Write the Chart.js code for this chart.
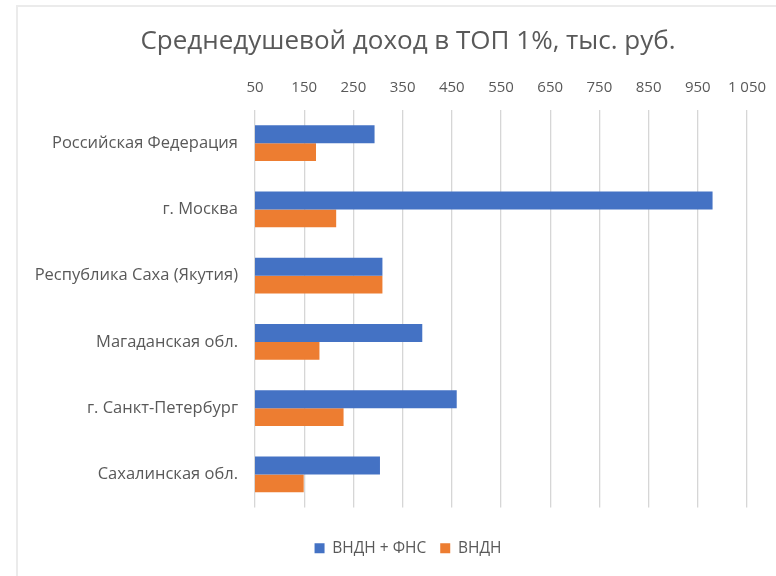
<!DOCTYPE html>
<html>
<head>
<meta charset="utf-8">
<script src="https://cdn.jsdelivr.net/npm/chart.js@4/dist/chart.umd.min.js"></script>
<style>
  html, body { margin: 0; padding: 0; background: #ffffff; overflow: hidden; width: 776px; height: 576px; }
  #frame { position: absolute; left: 16px; top: 5px; width: 780px; height: 600px;
           border-left: 2px solid #ebebeb; border-top: 2px solid #ebebeb; }
  #wrap { position: absolute; left: 0; top: 0; width: 780px; height: 600px; }
</style>
</head>
<body>
<div id="frame"><div id="wrap"><canvas id="c"></canvas></div></div>
<script>
const chartTitle = 'Среднедушевой доход в ТОП 1%, тыс. руб.';
const categories = [
  'Российская Федерация',
  'г. Москва',
  'Республика Саха (Якутия)',
  'Магаданская обл.',
  'г. Санкт-Петербург',
  'Сахалинская обл.'
];
const seriesNames = ['ВНДН + ФНС', 'ВНДН'];
const valuesVNDNFNS = [293, 980, 309, 390, 460, 304];
const valuesVNDN = [174, 215, 309, 181, 230, 149];
const xTickValues = [50, 150, 250, 350, 450, 550, 650, 750, 850, 950, 1050];

const FONT = "'Open Sans', 'Noto Sans', sans-serif";
const TEXT = '#595959';

function fmt(v) {
  const s = String(v);
  return s.length > 3 ? s.slice(0, s.length - 3) + ' ' + s.slice(-3) : s;
}

new Chart(document.getElementById('c'), {
  type: 'bar',
  data: {
    labels: categories,
    datasets: [
      { label: seriesNames[0], data: valuesVNDNFNS, backgroundColor: '#4472C4', yAxisID: 'y', xAxisID: 'x' },
      { label: seriesNames[1], data: valuesVNDN, backgroundColor: '#ED7D31', yAxisID: 'y', xAxisID: 'x' }
    ]
  },
  options: {
    indexAxis: 'y',
    responsive: true,
    maintainAspectRatio: false,
    animation: false,
    layout: { padding: { left: 0, right: 0, top: 0, bottom: 41 } },
    datasets: { bar: { categoryPercentage: 0.54, barPercentage: 1.0 } },
    scales: {
      x: {
        type: 'linear',
        position: 'top',
        min: 50,
        max: 1050,
        afterBuildTicks: (s) => { s.ticks = xTickValues.map(v => ({ value: v })); },
        afterFit: (s) => { s.height = 46; },
        grid: { color: '#d6d6d6', lineWidth: 1.3, drawTicks: false },
        border: { display: false },
        ticks: {
          color: TEXT, padding: 13,
          font: { family: FONT, size: 15 },
          maxRotation: 0, autoSkip: false,
          callback: (v) => fmt(v)
        }
      },
      x2: {
        type: 'linear', position: 'bottom', display: true,
        grid: { display: false, drawTicks: false }, border: { display: false },
        ticks: { display: false },
        afterFit: (s) => { s.height = 19; }
      },
      y: {
        type: 'category',
        position: 'left',
        afterFit: (s) => { s.width = 237; },
        grid: { display: false, drawTicks: false },
        border: { display: false },
        ticks: { color: TEXT, padding: 17, font: { family: FONT, size: 16.5 } }
      },
      y2: {
        type: 'linear', position: 'right', display: true,
        grid: { display: false, drawTicks: false }, border: { display: false },
        ticks: { display: false },
        afterFit: (s) => { s.width = 51; }
      }
    },
    plugins: {
      title: {
        display: true,
        text: chartTitle,
        color: TEXT,
        font: { family: FONT, size: 26, weight: 'normal', lineHeight: 1 },
        padding: { top: 22, bottom: 9 }
      },
      legend: {
        position: 'bottom',
        labels: {
          color: TEXT, boxWidth: 10, boxHeight: 10, padding: 14,
          font: { family: FONT, size: 15.5 }
        }
      },
      tooltip: { enabled: false }
    }
  }
});
</script>
</body>
</html>
